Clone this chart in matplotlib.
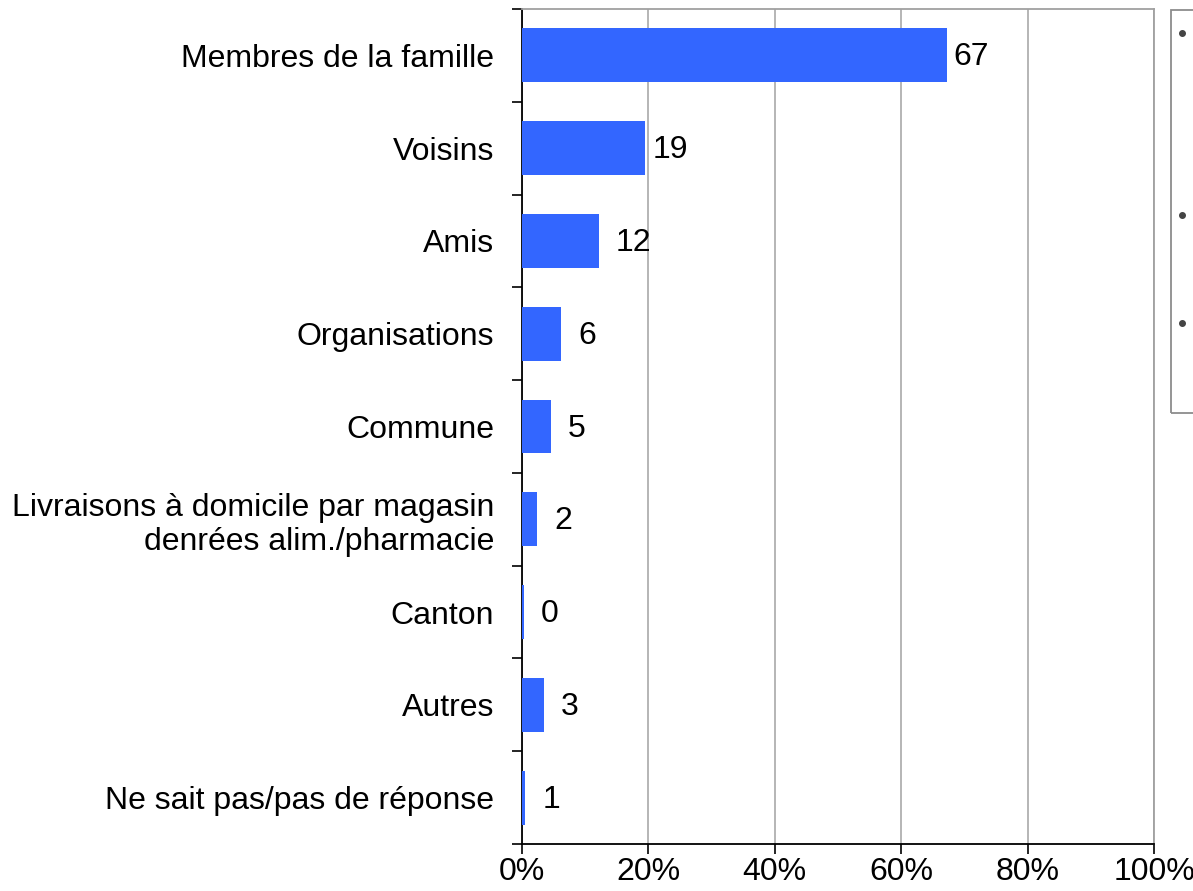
import matplotlib
matplotlib.use("Agg")
import matplotlib.pyplot as plt
from matplotlib.patches import Rectangle
from matplotlib.lines import Line2D
from matplotlib.ticker import FixedLocator, PercentFormatter

categories = [
    "Membres de la famille",
    "Voisins",
    "Amis",
    "Organisations",
    "Commune",
    "Livraisons à domicile par magasin\ndenrées alim./pharmacie",
    "Canton",
    "Autres",
    "Ne sait pas/pas de réponse",
]
values = [67.2, 19.5, 12.2, 6.2, 4.6, 2.4, 0.3, 3.5, 0.5]
labels = ["67", "19", "12", "6", "5", "2", "0", "3", "1"]
xticks = [0, 20, 40, 60, 80, 100]

plt.rcParams['font.family'] = ['Liberation Sans', 'DejaVu Sans']
FS = 23

fig = plt.figure(figsize=(11.93, 8.91), dpi=100)
ax = fig.add_axes([522/1193, 47/891, (1154-522)/1193, (844-9)/891])

n = len(categories)
ypos = list(range(n))
ax.barh(ypos, values, height=0.58, color="#3366FF", zorder=3)
ax.set_ylim(n - 0.5, -0.5)
ax.set_xlim(0, 100)

for y, v, lab in zip(ypos, values, labels):
    off = 7 if v > 15 else 17
    ax.annotate(lab, (v, y), xytext=(off * 0.72, -1.5), textcoords="offset points",
                ha="left", va="center", fontsize=FS, color="black")

ax.set_yticks(ypos)
ax.set_yticklabels(categories, fontsize=FS, linespacing=1.2)
ax.yaxis.set_minor_locator(FixedLocator([i - 0.5 for i in range(n + 1)]))
ax.tick_params(axis="y", which="major", length=0, pad=20)
ax.tick_params(axis="y", which="minor", length=7, width=1.2, color="black", direction="out")

ax.set_xticks(xticks)
ax.xaxis.set_major_formatter(PercentFormatter(decimals=0))
ax.tick_params(axis="x", which="major", length=7, width=1.2, direction="out", labelsize=FS, pad=2)
for lab in ax.get_yticklabels():
    lab.set_horizontalalignment("right")

ax.grid(axis="x", color="#b0b0b0", linewidth=1.3, zorder=0)
ax.spines["left"].set_color("black")
ax.spines["left"].set_linewidth(1.3)
ax.spines["bottom"].set_color("black")
ax.spines["bottom"].set_linewidth(1.3)
ax.spines["top"].set_color("#a0a0a0")
ax.spines["top"].set_linewidth(1.3)
ax.spines["right"].set_color("#a0a0a0")
ax.spines["right"].set_linewidth(1.3)

# clipped legend box at the right edge
W, H = 1193, 891
fig.patches.append(Rectangle((1171/W, (H-413)/H), 40/W, (413-10)/H, transform=fig.transFigure,
                             fill=False, edgecolor="#8c8c8c", linewidth=1.3))
for yy in [33, 215, 323]:
    fig.lines.append(Line2D([1182/W], [(H-yy)/H], transform=fig.transFigure, marker="o",
                            markersize=4, color="#444444", linestyle="none"))

fig.savefig("out.png", dpi=100)
